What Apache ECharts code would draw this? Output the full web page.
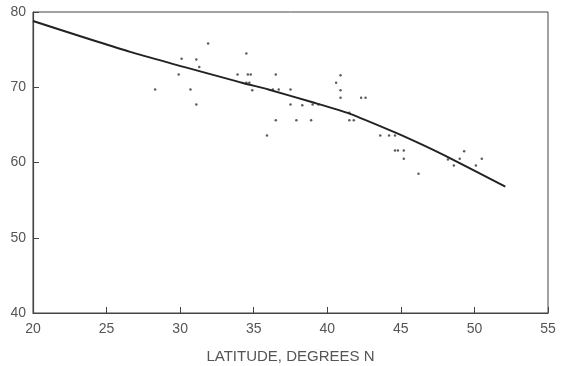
<!DOCTYPE html>
<html>
<head>
<meta charset="utf-8">
<script src="https://cdn.jsdelivr.net/npm/echarts@6/dist/echarts.min.js"></script>
<style>
  html, body { margin: 0; padding: 0; background: #fff; }
  #main { width: 561px; height: 366px; }
</style>
</head>
<body>
<div id="main"></div>
<script>
  // observed points (latitude, value)
  var obsLat = [28.3, 29.9, 30.1, 30.7, 31.1, 31.3, 31.1, 31.9, 33.9, 34.5, 34.6, 34.8, 34.5, 34.7, 34.9,
    35.9, 36.3, 36.5, 36.7, 36.5, 37.5, 37.5, 37.9, 38.3, 38.9, 39.0, 39.4, 40.6, 40.9, 40.9, 40.9,
    41.5, 41.5, 41.8, 42.3, 42.6, 43.6, 44.2, 44.6, 44.6, 44.8, 45.2, 45.2, 46.2, 48.2, 48.6, 49.0,
    49.3, 50.1, 50.5];
  var obsVal = [69.7, 71.7, 73.8, 69.7, 73.7, 72.7, 67.7, 75.8, 71.7, 74.5, 71.7, 71.7, 70.6, 70.6, 69.6,
    63.6, 69.7, 71.7, 69.7, 65.6, 69.7, 67.7, 65.6, 67.6, 65.6, 67.7, 67.7, 70.6, 71.6, 69.6, 68.6,
    66.6, 65.6, 65.6, 68.6, 68.6, 63.6, 63.6, 63.6, 61.6, 61.6, 61.6, 60.5, 58.5, 60.4, 59.6, 60.5,
    61.5, 59.6, 60.5];

  // fitted curve
  var fitLat = [20, 26.6, 34.2, 36.0, 39.0, 41.5, 44.6, 46.3, 48.0, 52.1];
  var fitVal = [78.8, 74.7, 70.6, 69.7, 68.0, 66.5, 64.0, 62.5, 60.9, 56.8];

  var xTicks = [20, 25, 30, 35, 40, 45, 50, 55];
  var yTicks = [40, 50, 60, 70, 80];

  var obsData = obsLat.map(function (x, i) { return [x, obsVal[i]]; });
  var fitData = fitLat.map(function (x, i) { return [x, fitVal[i]]; });

  var axisColor = '#444';
  var labelStyle = { color: '#555', fontSize: 14, fontFamily: 'Liberation Sans' };

  var chart = echarts.init(document.getElementById('main'));
  chart.setOption({
    animation: false,
    grid: {
      left: 33, right: 13, top: 12, bottom: 53,
      outerBoundsMode: 'none',
      show: true, borderColor: axisColor, borderWidth: 1
    },
    xAxis: {
      type: 'value',
      min: xTicks[0], max: xTicks[xTicks.length - 1], interval: 5,
      name: 'LATITUDE, DEGREES N',
      nameLocation: 'middle', nameGap: 36,
      nameTextStyle: { color: '#555', fontSize: 15, fontFamily: 'Liberation Sans' },
      axisLine: { show: true, lineStyle: { color: axisColor, width: 1.2 } },
      axisTick: { show: true, inside: true, length: 6, lineStyle: { color: axisColor } },
      axisLabel: Object.assign({ margin: 9 }, labelStyle),
      splitLine: { show: false }
    },
    yAxis: {
      type: 'value',
      min: yTicks[0], max: yTicks[yTicks.length - 1], interval: 10,
      axisLine: { show: true, lineStyle: { color: axisColor, width: 1.2 } },
      axisTick: { show: true, inside: true, length: 6, lineStyle: { color: axisColor } },
      axisLabel: Object.assign({ margin: 7 }, labelStyle),
      splitLine: { show: false }
    },
    series: [
      {
        type: 'line',
        data: fitData,
        showSymbol: false,
        smooth: 0.2,
        lineStyle: { color: '#222', width: 2 }
      },
      {
        type: 'scatter',
        data: obsData,
        symbol: 'circle',
        symbolSize: 2.5,
        itemStyle: { color: '#333' }
      }
    ]
  });
</script>
</body>
</html>
